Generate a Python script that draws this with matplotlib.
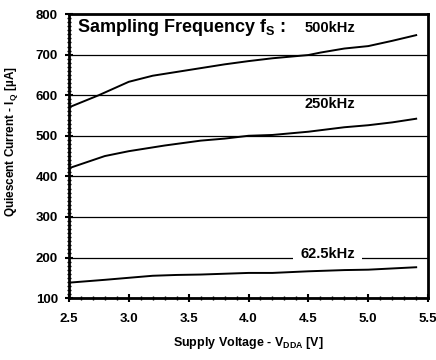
import numpy as np
import matplotlib.pyplot as plt
from matplotlib.ticker import MultipleLocator

plt.rcParams['font.family'] = ['Liberation Sans', 'DejaVu Sans']
plt.rcParams['font.weight'] = 'bold'
plt.rcParams['mathtext.fontset'] = 'custom'
plt.rcParams['mathtext.rm'] = 'Liberation Sans:bold'
plt.rcParams['mathtext.bf'] = 'Liberation Sans:bold'

# datos
v_500 = [2.5, 2.75, 3.0, 3.2, 3.5, 3.8, 4.0, 4.2, 4.5, 4.6, 4.8, 5.0, 5.2, 5.4]
i_500 = [570, 600, 633, 648, 662, 676, 684, 691, 699, 705, 715, 721, 734, 748]

v_250 = [2.5, 2.8, 3.0, 3.3, 3.6, 3.8, 4.0, 4.2, 4.5, 4.8, 5.0, 5.2, 5.4]
i_250 = [420, 450, 462, 476, 488, 493, 500, 502, 510, 521, 526, 533, 542]

v_62 = [2.5, 2.8, 3.0, 3.2, 3.4, 3.6, 4.0, 4.2, 4.5, 4.8, 5.0, 5.2, 5.4]
i_62 = [138, 145, 150, 155, 157, 158, 162, 162, 166, 169, 170, 173, 176]

x_ticks = [2.5, 3.0, 3.5, 4.0, 4.5, 5.0, 5.5]

fig = plt.figure(figsize=(4.36, 3.6), dpi=100)
ax = fig.add_axes([0.158, 0.172, 0.824, 0.789])

for y in range(100, 800, 100):
    ax.axhline(y, color='k', lw=0.9, zorder=1)

ax.plot(v_500, i_500, color='k', lw=1.4, zorder=3)
ax.plot(v_250, i_250, color='k', lw=1.4, zorder=3)
ax.plot(v_62, i_62, color='k', lw=1.4, zorder=3)

ax.set_xlim(2.5, 5.5)
ax.set_ylim(100, 800)
ax.xaxis.set_minor_locator(MultipleLocator(0.1))
ax.yaxis.set_major_locator(MultipleLocator(100))
ax.yaxis.set_minor_locator(MultipleLocator(10))
ax.tick_params(which='major', direction='inout', length=6, width=1.5, labelsize=9.5)
ax.tick_params(axis='x', which='major', pad=8)
ax.tick_params(axis='y', which='major', pad=5)
ax.tick_params(which='minor', direction='inout', length=3, width=1)
ax.set_xticks(x_ticks)
ax.set_xticklabels(['%.1f' % t for t in x_ticks], fontweight='bold')
for lbl in ax.get_yticklabels():
    lbl.set_fontweight('bold')

for s in ax.spines.values():
    s.set_linewidth(2)

ax.set_xlabel(r'Supply Voltage - V$_{\mathrm{DDA}}$ [V]', fontsize=9, fontweight='bold', labelpad=7)
ax.set_ylabel(r'Quiescent Current - I$_{\mathrm{Q}}$ [µA]', fontsize=8.5, fontweight='bold', labelpad=7)
ax.yaxis.set_label_coords(-0.135, 0.55)

ax.text(2.57, 766, r'Sampling Frequency f$_{\mathrm{S}}$ :', fontsize=13, fontweight='bold', va='center', zorder=4)
ax.text(4.89, 766, '500kHz', fontsize=10.5, fontweight='bold', va='center', ha='right', zorder=4)
ax.text(4.89, 578, '250kHz', fontsize=10.5, fontweight='bold', va='center', ha='right', zorder=4)
ax.text(4.89, 208, '62.5kHz', fontsize=10.5, fontweight='bold', va='center', ha='right', zorder=4,
        bbox=dict(facecolor='white', edgecolor='none', pad=5))

plt.savefig('out.png', dpi=100)
